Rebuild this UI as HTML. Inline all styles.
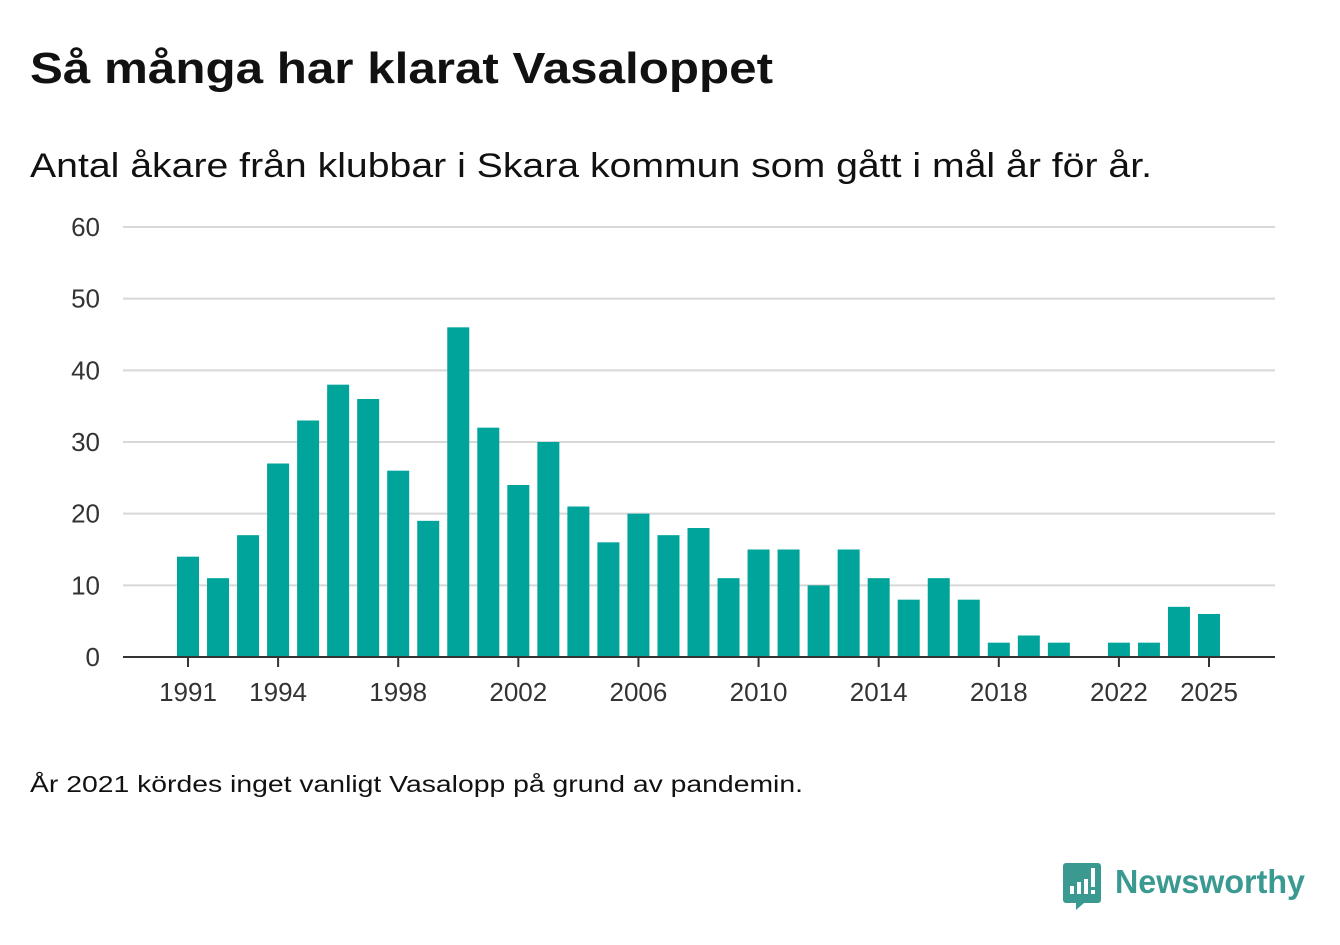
<!DOCTYPE html>
<html><head><meta charset="utf-8"><style>
body{margin:0;background:#fff;width:1340px;height:940px;overflow:hidden;font-family:"Liberation Sans","DejaVu Sans",sans-serif;color:#111}
</style></head><body>
<svg width="1340" height="940" xmlns="http://www.w3.org/2000/svg">
<text x="30" y="83" font-size="44" font-weight="bold" fill="#111" textLength="743" lengthAdjust="spacingAndGlyphs">Så många har klarat Vasaloppet</text>
<text x="30" y="177" font-size="34" fill="#111" textLength="1122" lengthAdjust="spacingAndGlyphs">Antal åkare från klubbar i Skara kommun som gått i mål år för år.</text>
<g id="grid"></g>
<g id="bars"></g>
<g id="xaxis"></g>
<text x="30" y="792" font-size="23" fill="#111" textLength="773" lengthAdjust="spacingAndGlyphs">År 2021 kördes inget vanligt Vasalopp på grund av pandemin.</text>
<g>
<path d="M1066 863 h32 a3 3 0 0 1 3 3 v34 a3 3 0 0 1 -3 3 h-14 l-8 7 v-7 h-10 a3 3 0 0 1 -3 -3 v-34 a3 3 0 0 1 3 -3z" fill="#3a9a91"/>
<rect x="1070" y="886" width="4" height="8" fill="#fff"/><rect x="1077" y="882" width="4" height="12" fill="#fff"/><rect x="1084" y="879" width="4" height="15" fill="#fff"/><rect x="1091" y="868" width="4" height="19" fill="#fff"/><rect x="1091" y="890" width="4" height="4" fill="#fff"/>
<text x="1115" y="893" font-size="33" font-weight="bold" fill="#3a9a91" textLength="190" lengthAdjust="spacingAndGlyphs">Newsworthy</text>
</g>
</svg>
<script>
const years=[1991,1992,1993,1994,1995,1996,1997,1998,1999,2000,2001,2002,2003,2004,2005,2006,2007,2008,2009,2010,2011,2012,2013,2014,2015,2016,2017,2018,2019,2020,2021,2022,2023,2024,2025];
const values=[14,11,17,27,33,38,36,26,19,46,32,24,30,21,16,20,17,18,11,15,15,10,15,11,8,11,8,2,3,2,0,2,2,7,6];
const yTicks=[0,10,20,30,40,50,60];
const xTickLabels=[1991,1994,1998,2002,2006,2010,2014,2018,2022,2025];
const NS="http://www.w3.org/2000/svg";
const y=v=>657-v*(430/60);
const x=yr=>188+(yr-1991)*((1209-188)/34);
const mk=(t,a,p)=>{const e=document.createElementNS(NS,t);for(const k in a)e.setAttribute(k,a[k]);p.appendChild(e);return e;};
const grid=document.getElementById('grid'),bars=document.getElementById('bars'),xa=document.getElementById('xaxis');
yTicks.forEach(t=>{
 if(t>0){const l=mk('line',{x1:123,x2:1275,y1:y(t),y2:y(t),stroke:'#d8d8d8','stroke-width':2},grid);
 
 }
 const tx=mk('text',{x:100,y:y(t)+9,'text-anchor':'end','font-size':26,fill:'#333'},grid);tx.textContent=t;
 
 
});
years.forEach((yr,i)=>{
 if(values[i]<=0)return;
 const r=mk('rect',{x:x(yr)-11,y:y(values[i]),width:22,height:657-y(values[i]),fill:'#00a49a'},bars);
 
 
});
const ax=mk('line',{x1:123,x2:1275,y1:657,y2:657,stroke:'#333','stroke-width':2},xa);


xTickLabels.forEach(yr=>{
 mk('line',{x1:x(yr),x2:x(yr),y1:657,y2:667,stroke:'#333','stroke-width':2},xa);
 const t=mk('text',{x:x(yr),y:701,'text-anchor':'middle','font-size':26,fill:'#333'},xa);t.textContent=yr;
 
 
});
</script>
</body></html>
